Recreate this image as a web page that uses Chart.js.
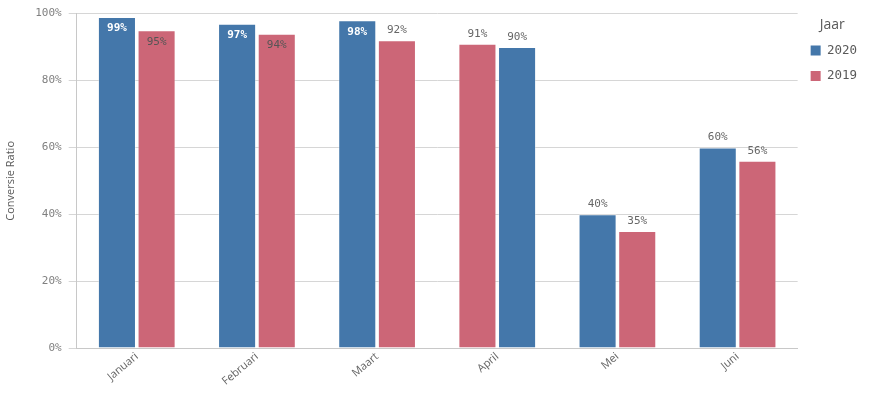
<!DOCTYPE html>
<html>
<head>
<meta charset="utf-8">
<script src="https://cdn.jsdelivr.net/npm/chart.js@4/dist/chart.umd.min.js"></script>
<style>
  html, body { margin: 0; padding: 0; background: #fff; }
  #wrap { width: 875px; height: 407px; position: relative; }
</style>
</head>
<body>
<div id="wrap"><canvas id="chart"></canvas></div>
<script>
var months = ['Januari', 'Februari', 'Maart', 'April', 'Mei', 'Juni'];
var ratio2020 = [99, 97, 98, 90, 40, 60];
var ratio2019 = [95, 94, 92, 91, 35, 56];
// which year is drawn as the left bar of each month (April is swapped in the original)
var leftYear = ['2020', '2020', '2020', '2019', '2020', '2020'];
var yTicks = [0, 20, 40, 60, 80, 100];

var colors = { '2020': '#4477aa', '2019': '#cc6677' };
var legendYears = ['2020', '2019'];

function valueFor(year, i) {
  return year === '2020' ? ratio2020[i] : ratio2019[i];
}

var rightYear = leftYear.map(function (y) { return y === '2020' ? '2019' : '2020'; });

var labelPlugin = {
  id: 'barLabels',
  afterDatasetsDraw: function (chart) {
    var ctx = chart.ctx;
    var top = chart.chartArea.top;
    ctx.save();
    ctx.textAlign = 'center';
    ctx.textBaseline = 'middle';
    chart.data.datasets.forEach(function (ds, di) {
      var meta = chart.getDatasetMeta(di);
      meta.data.forEach(function (bar, i) {
        var text = ds.data[i] + '%';
        var year = ds.years[i];
        if (bar.y - top >= 22) {
          ctx.font = '11px "DejaVu Sans Mono"';
          ctx.fillStyle = '#666666';
          ctx.fillText(text, bar.x, bar.y - 10);
        } else {
          if (year === '2020') {
            ctx.font = 'bold 11px "DejaVu Sans Mono"';
            ctx.fillStyle = '#ffffff';
          } else {
            ctx.font = '11px "DejaVu Sans Mono"';
            ctx.fillStyle = '#555555';
          }
          ctx.fillText(text, bar.x, bar.y + 11.5);
        }
      });
    });
    ctx.restore();
  }
};

function makeDataset(years) {
  return {
    years: years,
    data: years.map(function (y, i) { return valueFor(y, i); }),
    backgroundColor: years.map(function (y) { return colors[y]; }),
    borderColor: 'rgba(255,255,255,0.35)',
    borderWidth: 1,
    categoryPercentage: 0.66,
    barPercentage: 0.96
  };
}

new Chart(document.getElementById('chart'), {
  type: 'bar',
  data: {
    labels: months,
    datasets: [makeDataset(leftYear), makeDataset(rightYear)]
  },
  options: {
    responsive: true,
    maintainAspectRatio: false,
    animation: false,
    layout: { padding: { top: 13.5, right: 8, left: 4, bottom: 17 } },
    plugins: {
      tooltip: { enabled: false },
      legend: {
        position: 'right',
        align: 'start',
        title: {
          display: true,
          text: 'Jaar',
          color: '#595959',
          font: { family: '"Open Sans"', size: 14 },
          padding: { top: 5, bottom: -4 }
        },
        labels: {
          boxWidth: 10,
          boxHeight: 10,
          padding: 13,
          color: '#666666',
          font: { family: '"DejaVu Sans Mono"', size: 12.5 },
          generateLabels: function () {
            return legendYears.map(function (y) {
              return { text: y, fillStyle: colors[y], strokeStyle: colors[y], lineWidth: 0 };
            });
          }
        }
      }
    },
    scales: {
      x: {
        grid: { display: false, drawTicks: false },
        border: { color: '#c8c8c8' },
        ticks: {
          minRotation: 40,
          maxRotation: 40,
          padding: 2,
          color: '#666666',
          font: { family: '"Open Sans"', size: 11 }
        }
      },
      y: {
        min: 0,
        max: 100,
        afterBuildTicks: function (axis) {
          axis.ticks = yTicks.map(function (v) { return { value: v }; });
        },
        ticks: {
          color: '#808080',
          padding: 7,
          font: { family: '"DejaVu Sans Mono"', size: 11 },
          callback: function (v) { return v + '%'; }
        },
        grid: { color: '#d6d6d6', tickLength: 8 },
        border: { color: '#c8c8c8' },
        title: {
          display: true,
          text: 'Conversie Ratio',
          color: '#595959',
          font: { family: '"Open Sans"', size: 11 },
          padding: { top: 0, bottom: 11 }
        }
      }
    }
  },
  plugins: [labelPlugin]
});
</script>
</body>
</html>
